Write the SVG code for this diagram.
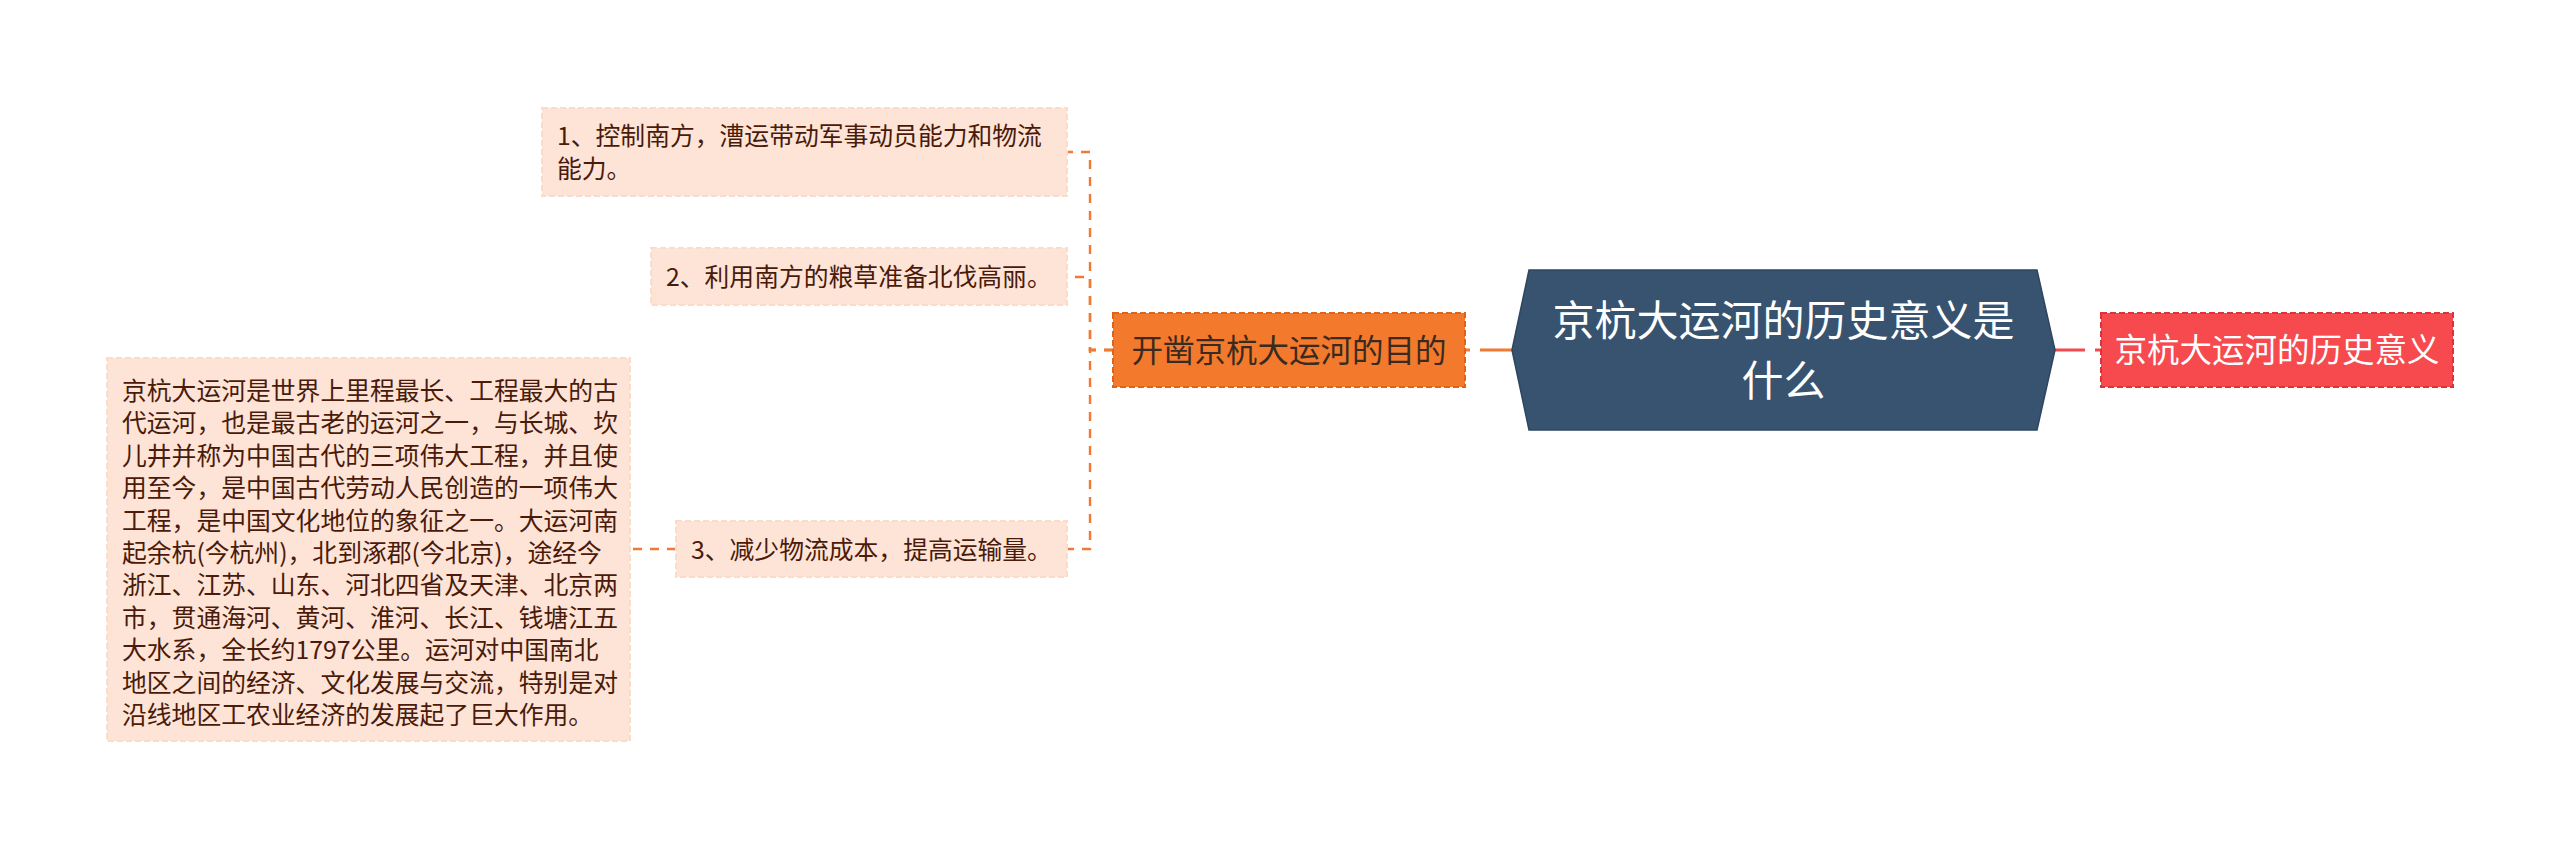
<svg xmlns="http://www.w3.org/2000/svg" width="2560" height="845" viewBox="0 0 2560 845">
<style>
text{font-family:"Noto Sans CJK SC","Noto Sans",sans-serif}
.leaf rect{fill:#fde4d6;stroke:#f9dccb;stroke-width:2;stroke-dasharray:6 3}
.leaf text{font-size:24.8px;fill:#4a1a0a}
.conn-d{fill:none;stroke:#ee7a35;stroke-width:2.4;stroke-dasharray:9 8}
</style>
<rect width="2560" height="845" fill="#ffffff"/>
<g id="connectors">
<path class="conn-d" d="M1113 350 H1090 V152 H1067"/>
<path class="conn-d" d="M1113 350 H1090 V277 H1067"/>
<path class="conn-d" d="M1113 350 H1090 V549 H1067"/>
<path class="conn-d" d="M676 549 H630"/>
<path d="M1512 350 H1465" fill="none" stroke="#ee7a35" stroke-width="3" stroke-dasharray="32 10"/>
<path d="M2055 350 H2101" fill="none" stroke="#f04a4e" stroke-width="3" stroke-dasharray="30 10"/>
</g>
<g id="root">
<polygon points="1512,350 1529,270 2037,270 2055,350 2037,430 1529,430" fill="#37536f" stroke="#2e4660" stroke-width="1.5"/>
<text x="1783.5" y="336" font-size="42" fill="#ffffff" text-anchor="middle">京杭大运河的历史意义是</text>
<text x="1783.5" y="396" font-size="42" fill="#ffffff" text-anchor="middle">什么</text>
</g>
<g id="purpose">
<rect x="1113" y="313" width="352" height="74" fill="#f37a2c" stroke="#de6419" stroke-width="2" stroke-dasharray="6 3"/>
<text x="1289" y="362" font-size="31.5" fill="#3a2a1f" text-anchor="middle">开凿京杭大运河的目的</text>
</g>
<g id="meaning">
<rect x="2101" y="313" width="352" height="74" fill="#f64a4e" stroke="#dd3238" stroke-width="2" stroke-dasharray="6 3"/>
<text x="2277" y="362" font-size="32.5" fill="#ffffff" text-anchor="middle">京杭大运河的历史意义</text>
</g>
<g id="item1" class="leaf">
<rect x="542" y="108" width="525" height="88"/>
<text x="557" y="145">1、控制南方，漕运带动军事动员能力和物流</text>
<text x="557" y="177.5">能力。</text>
</g>
<g id="item2" class="leaf">
<rect x="651" y="248" width="416" height="57"/>
<text x="666" y="286">2、利用南方的粮草准备北伐高丽。</text>
</g>
<g id="item3" class="leaf">
<rect x="676" y="521" width="391" height="56"/>
<text x="691" y="558.5">3、减少物流成本，提高运输量。</text>
</g>
<g id="detail" class="leaf">
<rect x="107" y="358" width="523" height="383"/>
<text x="122" y="400">京杭大运河是世界上里程最长、工程最大的古</text>
<text x="122" y="432.4">代运河，也是最古老的运河之一，与长城、坎</text>
<text x="122" y="464.8">儿井并称为中国古代的三项伟大工程，并且使</text>
<text x="122" y="497.2">用至今，是中国古代劳动人民创造的一项伟大</text>
<text x="122" y="529.6">工程，是中国文化地位的象征之一。大运河南</text>
<text x="122" y="562">起余杭(今杭州)，北到涿郡(今北京)，途经今</text>
<text x="122" y="594.4">浙江、江苏、山东、河北四省及天津、北京两</text>
<text x="122" y="626.8">市，贯通海河、黄河、淮河、长江、钱塘江五</text>
<text x="122" y="659.2">大水系，全长约1797公里。运河对中国南北</text>
<text x="122" y="691.6">地区之间的经济、文化发展与交流，特别是对</text>
<text x="122" y="724">沿线地区工农业经济的发展起了巨大作用。</text>
</g>
</svg>
